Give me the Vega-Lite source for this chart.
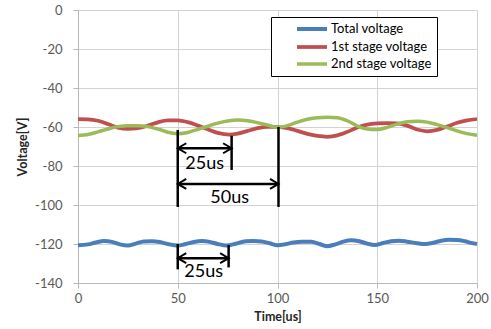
{
  "$schema": "https://vega.github.io/schema/vega-lite/v6.json",
  "width": 399,
  "height": 273,
  "autosize": {"type": "none"},
  "padding": {"left": 78, "top": 10, "right": 14, "bottom": 46},
  "background": "white",
  "config": {
    "view": {"stroke": null},
    "font": "Lato",
    "axis": {
      "grid": true,
      "gridColor": "#d3d3d3",
      "gridWidth": 1,
      "domainColor": "#b8b8b8",
      "tickColor": "#b8b8b8",
      "tickSize": 5,
      "labelFont": "Lato",
      "labelFontSize": 13,
      "labelColor": "#595959",
      "labelOverlap": false,
      "labelFlush": false,
      "titleFont": "Lato",
      "titleFontWeight": "bold",
      "titleFontSize": 12.5,
      "titleColor": "#262626"
    },
    "axisX": {"labelPadding": 4, "titlePadding": 5},
    "axisY": {"labelPadding": 11, "titlePadding": 5}
  },
  "layer": [
    {
      "data": {"values": [
        {"series": "Total voltage", "t": 0, "v": -120.7},
        {"series": "Total voltage", "t": 5, "v": -120.2},
        {"series": "Total voltage", "t": 9, "v": -119.2},
        {"series": "Total voltage", "t": 13, "v": -118.5},
        {"series": "Total voltage", "t": 17, "v": -118.9},
        {"series": "Total voltage", "t": 21, "v": -120.2},
        {"series": "Total voltage", "t": 25, "v": -120.8},
        {"series": "Total voltage", "t": 29, "v": -119.8},
        {"series": "Total voltage", "t": 33, "v": -118.7},
        {"series": "Total voltage", "t": 37, "v": -118.6},
        {"series": "Total voltage", "t": 41, "v": -119.0},
        {"series": "Total voltage", "t": 45, "v": -120.0},
        {"series": "Total voltage", "t": 50, "v": -120.8},
        {"series": "Total voltage", "t": 54, "v": -120.0},
        {"series": "Total voltage", "t": 58, "v": -119.0},
        {"series": "Total voltage", "t": 62, "v": -118.5},
        {"series": "Total voltage", "t": 66, "v": -118.9},
        {"series": "Total voltage", "t": 70, "v": -120.0},
        {"series": "Total voltage", "t": 74.5, "v": -120.8},
        {"series": "Total voltage", "t": 79, "v": -119.9},
        {"series": "Total voltage", "t": 84, "v": -118.6},
        {"series": "Total voltage", "t": 88, "v": -118.5},
        {"series": "Total voltage", "t": 92, "v": -118.7},
        {"series": "Total voltage", "t": 96, "v": -119.6},
        {"series": "Total voltage", "t": 100, "v": -120.6},
        {"series": "Total voltage", "t": 104, "v": -120.1},
        {"series": "Total voltage", "t": 108, "v": -119.2},
        {"series": "Total voltage", "t": 112, "v": -118.8},
        {"series": "Total voltage", "t": 117, "v": -118.8},
        {"series": "Total voltage", "t": 121, "v": -120.0},
        {"series": "Total voltage", "t": 124.6, "v": -121.1},
        {"series": "Total voltage", "t": 129, "v": -120.2},
        {"series": "Total voltage", "t": 133, "v": -118.8},
        {"series": "Total voltage", "t": 137, "v": -118.1},
        {"series": "Total voltage", "t": 141, "v": -118.6},
        {"series": "Total voltage", "t": 145, "v": -119.8},
        {"series": "Total voltage", "t": 148.6, "v": -120.5},
        {"series": "Total voltage", "t": 153, "v": -119.5},
        {"series": "Total voltage", "t": 157, "v": -118.6},
        {"series": "Total voltage", "t": 161, "v": -118.3},
        {"series": "Total voltage", "t": 165, "v": -118.8},
        {"series": "Total voltage", "t": 170, "v": -119.6},
        {"series": "Total voltage", "t": 174, "v": -120.0},
        {"series": "Total voltage", "t": 178, "v": -119.4},
        {"series": "Total voltage", "t": 182, "v": -118.3},
        {"series": "Total voltage", "t": 186, "v": -117.8},
        {"series": "Total voltage", "t": 190, "v": -117.9},
        {"series": "Total voltage", "t": 194, "v": -118.6},
        {"series": "Total voltage", "t": 197, "v": -119.4},
        {"series": "Total voltage", "t": 200, "v": -120.0},

        {"series": "1st stage voltage", "t": 0, "v": -56.0},
        {"series": "1st stage voltage", "t": 5, "v": -56.1},
        {"series": "1st stage voltage", "t": 10, "v": -56.8},
        {"series": "1st stage voltage", "t": 15, "v": -58.5},
        {"series": "1st stage voltage", "t": 20, "v": -60.3},
        {"series": "1st stage voltage", "t": 25, "v": -61.0},
        {"series": "1st stage voltage", "t": 30, "v": -60.6},
        {"series": "1st stage voltage", "t": 35, "v": -59.3},
        {"series": "1st stage voltage", "t": 40, "v": -57.6},
        {"series": "1st stage voltage", "t": 45, "v": -56.6},
        {"series": "1st stage voltage", "t": 50, "v": -56.6},
        {"series": "1st stage voltage", "t": 55, "v": -57.5},
        {"series": "1st stage voltage", "t": 60, "v": -59.2},
        {"series": "1st stage voltage", "t": 65, "v": -61.2},
        {"series": "1st stage voltage", "t": 70, "v": -63.0},
        {"series": "1st stage voltage", "t": 76, "v": -63.9},
        {"series": "1st stage voltage", "t": 80, "v": -63.4},
        {"series": "1st stage voltage", "t": 85, "v": -62.0},
        {"series": "1st stage voltage", "t": 90, "v": -60.6},
        {"series": "1st stage voltage", "t": 95, "v": -59.9},
        {"series": "1st stage voltage", "t": 100, "v": -60.0},
        {"series": "1st stage voltage", "t": 105, "v": -60.6},
        {"series": "1st stage voltage", "t": 110, "v": -62.0},
        {"series": "1st stage voltage", "t": 115, "v": -63.5},
        {"series": "1st stage voltage", "t": 120, "v": -64.6},
        {"series": "1st stage voltage", "t": 125, "v": -65.0},
        {"series": "1st stage voltage", "t": 130, "v": -64.3},
        {"series": "1st stage voltage", "t": 135, "v": -62.5},
        {"series": "1st stage voltage", "t": 140, "v": -60.2},
        {"series": "1st stage voltage", "t": 145, "v": -58.8},
        {"series": "1st stage voltage", "t": 150, "v": -58.2},
        {"series": "1st stage voltage", "t": 155, "v": -58.0},
        {"series": "1st stage voltage", "t": 160, "v": -58.2},
        {"series": "1st stage voltage", "t": 165, "v": -59.3},
        {"series": "1st stage voltage", "t": 170, "v": -61.3},
        {"series": "1st stage voltage", "t": 175, "v": -62.2},
        {"series": "1st stage voltage", "t": 180, "v": -61.5},
        {"series": "1st stage voltage", "t": 185, "v": -59.8},
        {"series": "1st stage voltage", "t": 190, "v": -57.8},
        {"series": "1st stage voltage", "t": 195, "v": -56.6},
        {"series": "1st stage voltage", "t": 200, "v": -55.9},

        {"series": "2nd stage voltage", "t": 0, "v": -64.3},
        {"series": "2nd stage voltage", "t": 5, "v": -63.8},
        {"series": "2nd stage voltage", "t": 10, "v": -62.5},
        {"series": "2nd stage voltage", "t": 15, "v": -61.0},
        {"series": "2nd stage voltage", "t": 20, "v": -59.8},
        {"series": "2nd stage voltage", "t": 25, "v": -59.3},
        {"series": "2nd stage voltage", "t": 30, "v": -59.3},
        {"series": "2nd stage voltage", "t": 35, "v": -59.8},
        {"series": "2nd stage voltage", "t": 40, "v": -61.0},
        {"series": "2nd stage voltage", "t": 45, "v": -62.7},
        {"series": "2nd stage voltage", "t": 50, "v": -63.4},
        {"series": "2nd stage voltage", "t": 55, "v": -62.8},
        {"series": "2nd stage voltage", "t": 60, "v": -61.2},
        {"series": "2nd stage voltage", "t": 65, "v": -59.6},
        {"series": "2nd stage voltage", "t": 70, "v": -58.0},
        {"series": "2nd stage voltage", "t": 75, "v": -56.9},
        {"series": "2nd stage voltage", "t": 80, "v": -56.4},
        {"series": "2nd stage voltage", "t": 85, "v": -56.8},
        {"series": "2nd stage voltage", "t": 90, "v": -57.8},
        {"series": "2nd stage voltage", "t": 95, "v": -59.0},
        {"series": "2nd stage voltage", "t": 100, "v": -60.2},
        {"series": "2nd stage voltage", "t": 105, "v": -59.3},
        {"series": "2nd stage voltage", "t": 110, "v": -57.5},
        {"series": "2nd stage voltage", "t": 115, "v": -56.0},
        {"series": "2nd stage voltage", "t": 120, "v": -55.2},
        {"series": "2nd stage voltage", "t": 125, "v": -55.0},
        {"series": "2nd stage voltage", "t": 130, "v": -55.2},
        {"series": "2nd stage voltage", "t": 135, "v": -56.8},
        {"series": "2nd stage voltage", "t": 140, "v": -59.5},
        {"series": "2nd stage voltage", "t": 145, "v": -61.0},
        {"series": "2nd stage voltage", "t": 150, "v": -61.3},
        {"series": "2nd stage voltage", "t": 155, "v": -60.2},
        {"series": "2nd stage voltage", "t": 160, "v": -58.5},
        {"series": "2nd stage voltage", "t": 165, "v": -57.3},
        {"series": "2nd stage voltage", "t": 170, "v": -57.0},
        {"series": "2nd stage voltage", "t": 175, "v": -57.5},
        {"series": "2nd stage voltage", "t": 180, "v": -58.8},
        {"series": "2nd stage voltage", "t": 185, "v": -60.3},
        {"series": "2nd stage voltage", "t": 190, "v": -62.0},
        {"series": "2nd stage voltage", "t": 195, "v": -63.4},
        {"series": "2nd stage voltage", "t": 200, "v": -64.2}
      ]},
      "mark": {"type": "line", "interpolate": "monotone"},
      "encoding": {
        "x": {"field": "t", "type": "quantitative", "title": "Time[us]",
              "scale": {"domain": [0, 200], "nice": false},
              "axis": {"values": [0, 50, 100, 150, 200]}},
        "y": {"field": "v", "type": "quantitative", "title": "Voltage[V]",
              "scale": {"domain": [-140, 0], "nice": false},
              "axis": {"values": [-140, -120, -100, -80, -60, -40, -20, 0], "tickCount": 8,
                       "labelExpr": "datum.value < 0 ? '-' + abs(datum.value) : '' + datum.value"}},
        "color": {"field": "series", "type": "nominal",
          "scale": {"domain": ["Total voltage", "1st stage voltage", "2nd stage voltage"],
                    "range": ["#4a7ebb", "#c0504d", "#9bbb59"]},
          "legend": {
            "title": null,
            "orient": "none",
            "legendX": 193,
            "legendY": 7,
            "direction": "vertical",
            "strokeColor": "#000000",
            "fillColor": "#ffffff",
            "padding": 5,
            "labelFont": "Lato",
            "labelFontSize": 13,
            "labelColor": "#000000",
            "symbolType": "M-3,0L3,0",
            "symbolSize": 100,
            "symbolStrokeWidth": 3,
            "symbolOffset": 29,
            "labelOffset": 12,
            "rowPadding": 2
          }},
        "strokeWidth": {"field": "series", "type": "nominal", "legend": null,
          "scale": {"domain": ["Total voltage", "1st stage voltage", "2nd stage voltage"],
                    "range": [4, 3.5, 5]}}
      }
    },
    {
      "data": {"values": [
        {"t": 50, "v": -61.5, "t2": 50, "v2": -101},
        {"t": 77, "v": -64.5, "t2": 77, "v2": -82},
        {"t": 100.5, "v": -60, "t2": 100.5, "v2": -101},
        {"t": 50, "v": -120, "t2": 50, "v2": -133},
        {"t": 75.5, "v": -120.5, "t2": 75.5, "v2": -132},
        {"t": 50, "v": -70.9, "t2": 77, "v2": -70.9},
        {"t": 50, "v": -89.2, "t2": 100.5, "v2": -89.2},
        {"t": 50, "v": -127.3, "t2": 75.5, "v2": -127.3}
      ]},
      "mark": {"type": "rule", "color": "#000000", "strokeWidth": 2.5},
      "encoding": {
        "x": {"field": "t", "type": "quantitative", "title": "Time[us]",
              "axis": {"values": [0, 50, 100, 150, 200]}},
        "x2": {"field": "t2"},
        "y": {"field": "v", "type": "quantitative", "title": "Voltage[V]",
              "axis": {"values": [-140, -120, -100, -80, -60, -40, -20, 0], "tickCount": 8,
                       "labelExpr": "datum.value < 0 ? '-' + abs(datum.value) : '' + datum.value"}},
        "y2": {"field": "v2"}
      }
    },
    {
      "data": {"values": [
        {"t": 50, "v": -70.9, "dir": "left"},
        {"t": 77, "v": -70.9, "dir": "right"},
        {"t": 50, "v": -89.2, "dir": "left"},
        {"t": 100.5, "v": -89.2, "dir": "right"},
        {"t": 50, "v": -127.3, "dir": "left"},
        {"t": 75.5, "v": -127.3, "dir": "right"}
      ]},
      "mark": {"type": "point", "filled": false, "color": "#000000", "strokeWidth": 2, "size": 100, "opacity": 1},
      "encoding": {
        "x": {"field": "t", "type": "quantitative", "title": "Time[us]",
              "axis": {"values": [0, 50, 100, 150, 200]}},
        "y": {"field": "v", "type": "quantitative", "title": "Voltage[V]",
              "axis": {"values": [-140, -120, -100, -80, -60, -40, -20, 0], "tickCount": 8,
                       "labelExpr": "datum.value < 0 ? '-' + abs(datum.value) : '' + datum.value"}},
        "shape": {"field": "dir", "type": "nominal", "legend": null,
          "scale": {"domain": ["left", "right"], "range": ["M1.7,-1L0,0L1.7,1", "M-1.7,-1L0,0L-1.7,1"]}}
      }
    },
    {
      "data": {"values": [
        {"t": 63.5, "v": -79.1, "label": "25us"},
        {"t": 76, "v": -96.6, "label": "50us"},
        {"t": 63, "v": -134.2, "label": "25us"}
      ]},
      "mark": {"type": "text", "font": "Lato", "fontSize": 18, "color": "#000000", "baseline": "middle", "align": "center"},
      "encoding": {
        "x": {"field": "t", "type": "quantitative", "title": "Time[us]",
              "axis": {"values": [0, 50, 100, 150, 200]}},
        "y": {"field": "v", "type": "quantitative", "title": "Voltage[V]",
              "axis": {"values": [-140, -120, -100, -80, -60, -40, -20, 0], "tickCount": 8,
                       "labelExpr": "datum.value < 0 ? '-' + abs(datum.value) : '' + datum.value"}},
        "text": {"field": "label"}
      }
    }
  ]
}
